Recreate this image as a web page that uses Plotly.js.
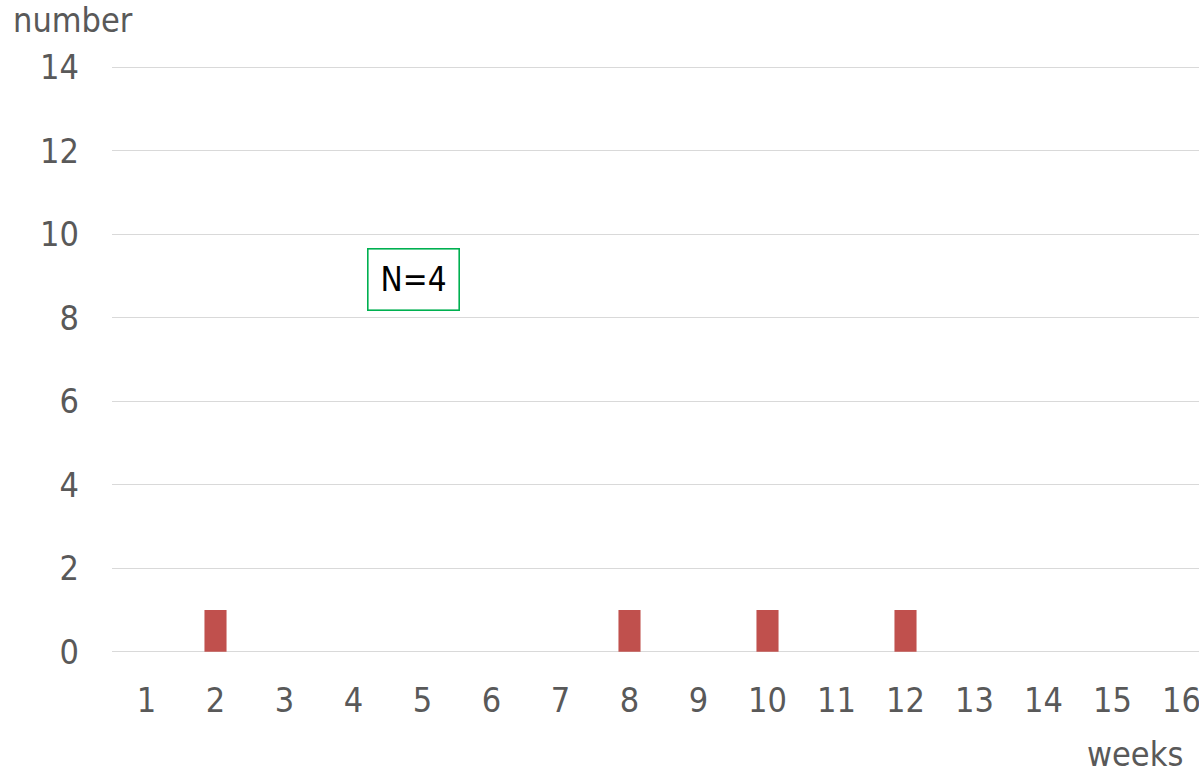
<!DOCTYPE html>
<html>
<head>
<meta charset="utf-8">
<script src="https://cdn.plot.ly/plotly-3.0.1.min.js"></script>
<style>
  html, body { margin: 0; padding: 0; background: #ffffff; overflow: hidden; }
  #chart { width: 1199px; height: 773px; }
</style>
</head>
<body>
<div id="chart"></div>
<script>
// Weekly counts
const weeks = [1, 2, 3, 4, 5, 6, 7, 8, 9, 10, 11, 12, 13, 14, 15, 16];
const counts = [0, 1, 0, 0, 0, 0, 0, 1, 0, 1, 0, 1, 0, 0, 0, 0];
const weekLabels = weeks.map(String);
const yTicks = [0, 2, 4, 6, 8, 10, 12, 14];
const totalLabel = 'N=4';

const FONT = '"Liberation Sans Narrow", "DejaVu Sans Condensed", Lato, sans-serif';
const GREY = '#595959';

// plot area geometry (pixels)
const PLOT_L = 112, PLOT_T = 66, PLOT_B = 120, W = 1199, H = 773;
const PLOT_W = W - PLOT_L, PLOT_H = H - PLOT_T - PLOT_B;

const trace = {
  type: 'bar',
  x: weeks,
  y: counts,
  width: 0.32,
  marker: { color: '#C0504D' },
  hoverinfo: 'x+y'
};

const layout = {
  width: W,
  height: H,
  margin: { l: PLOT_L, r: 0, t: PLOT_T, b: PLOT_B, pad: 0 },
  paper_bgcolor: '#ffffff',
  plot_bgcolor: '#ffffff',
  showlegend: false,
  font: { family: FONT, color: GREY, size: 34 },
  xaxis: {
    type: 'linear',
    range: [0.5, 0.5 + PLOT_W / 69],
    tickvals: weeks,
    ticktext: weekLabels,
    ticks: '',
    showgrid: false,
    zeroline: false,
    showline: false,
    ticklabeloverflow: 'allow',
    ticklabelstandoff: 24,
    tickfont: { family: FONT, size: 34, color: GREY },
    fixedrange: true
  },
  yaxis: {
    range: [-0.03, 14.03],
    tickvals: yTicks,
    ticktext: yTicks.map(String),
    ticks: '',
    showgrid: true,
    gridcolor: '#D9D9D9',
    gridwidth: 1.3,
    zeroline: false,
    showline: false,
    ticklabelstandoff: 32,
    tickfont: { family: FONT, size: 34, color: GREY },
    fixedrange: true
  },
  annotations: [
    {
      text: 'number', xref: 'paper', yref: 'paper',
      x: (11 - PLOT_L) / PLOT_W, y: 1 + (PLOT_T - 20) / PLOT_H, xanchor: 'left', yanchor: 'middle',
      showarrow: false, font: { family: FONT, size: 34, color: GREY }
    },
    {
      text: 'weeks', xref: 'paper', yref: 'paper',
      x: (1135 - PLOT_L) / PLOT_W, y: -(754 - (H - PLOT_B)) / PLOT_H, xanchor: 'center', yanchor: 'middle',
      showarrow: false, font: { family: FONT, size: 34, color: GREY }
    },
    {
      text: totalLabel, xref: 'x', yref: 'y',
      x: 4.87, y: 8.91, xanchor: 'center', yanchor: 'middle',
      showarrow: false,
      width: 86, height: 56, borderpad: 2,
      bordercolor: '#00B050', borderwidth: 1.6, bgcolor: '#ffffff',
      font: { family: FONT, size: 33, color: '#000000' }
    }
  ]
};

Plotly.newPlot('chart', [trace], layout, { displayModeBar: false, staticPlot: true });
</script>
</body>
</html>
